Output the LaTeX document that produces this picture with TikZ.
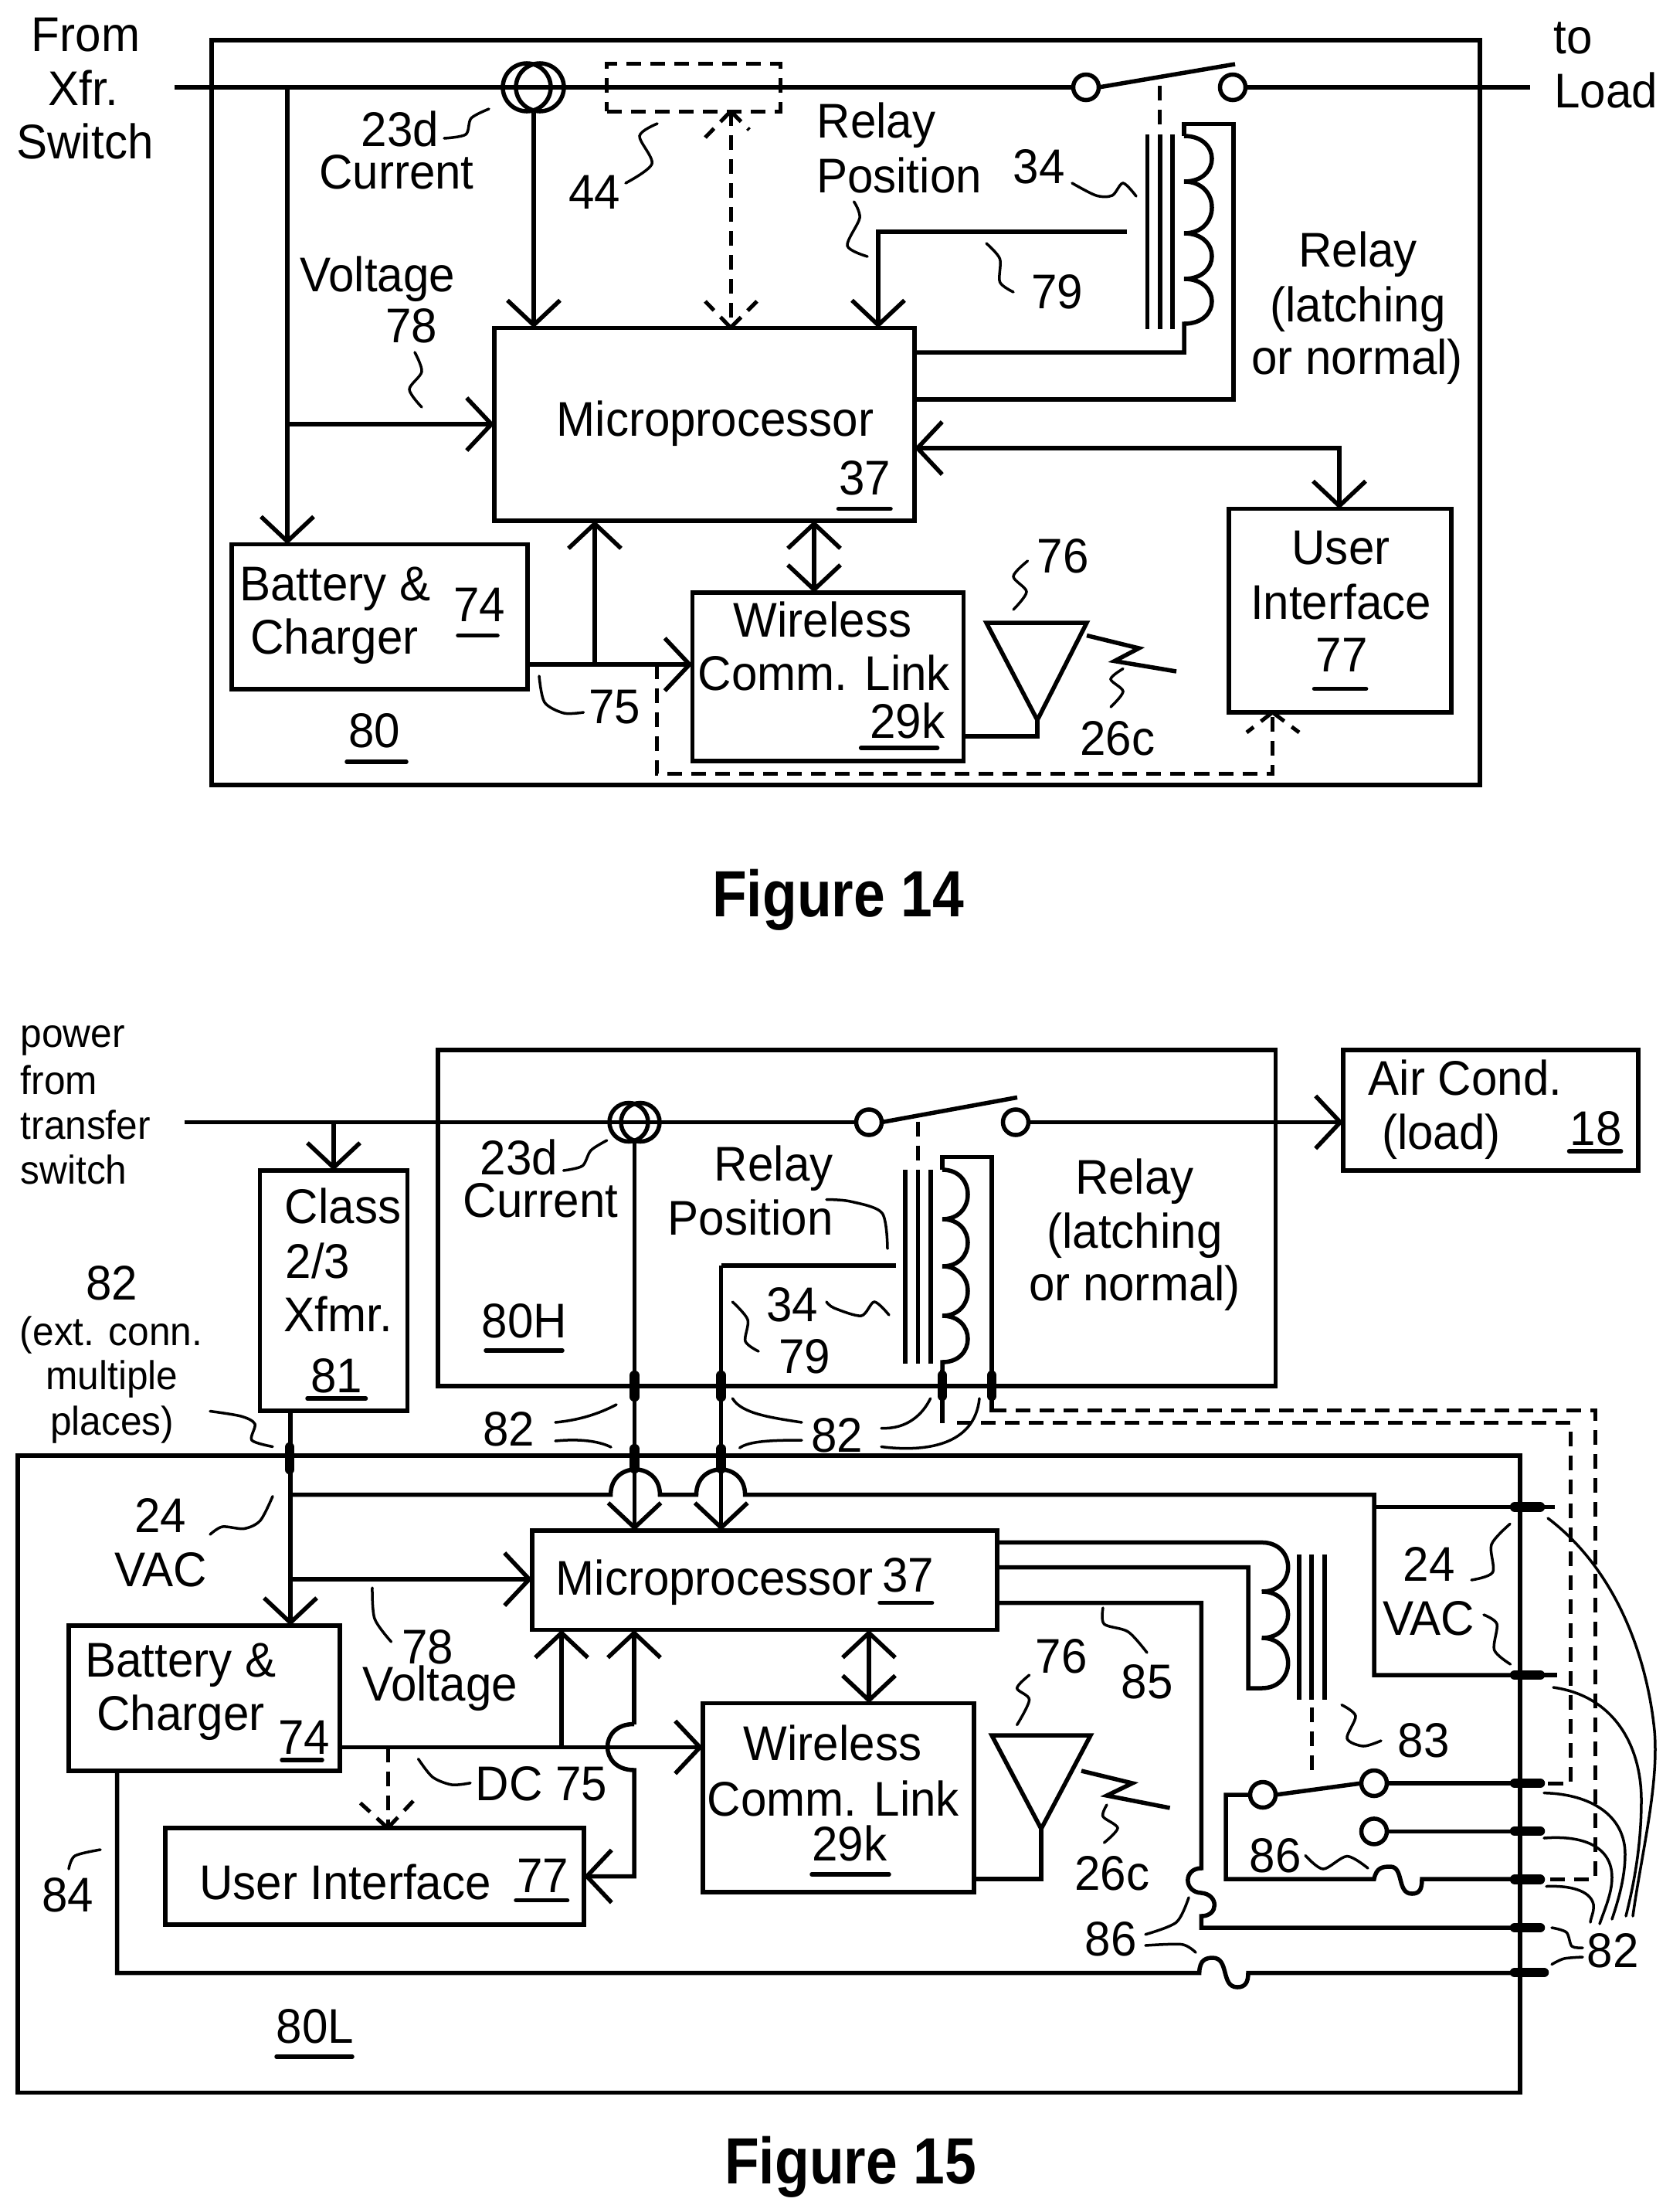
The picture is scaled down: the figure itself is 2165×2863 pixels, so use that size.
\documentclass[tikz,border=0pt]{standalone}
\usepackage{fontspec}
\setmainfont[FakeStretch=0.953]{Liberation Sans}
\newfontfamily\figfont[FakeStretch=0.865]{Liberation Sans}
\usetikzlibrary{arrows.meta,calc}
\newcounter{lb}
\newcommand{\Lbl}[3][]{\stepcounter{lb}\node[lbl,#1] (L\arabic{lb}) at (#2) {#3};}
\newcommand{\Bx}[5]{\node[blk,minimum width={(#4-#2)*0.01cm},minimum height={(#5-#3)*0.01cm}] (#1) at ({(#2+#4)/2},{(#3+#5)/2}) {};}
\tikzset{
  x=0.01cm,y=-0.01cm,
  barb/.tip={Straight Barb[length=3.2mm,width=6.8mm]},
  wire/.style={line width=0.055cm,line join=miter},
  arr/.style={wire,-barb},
  darr/.style={wire,barb-barb},
  dsh/.style={line width=0.05cm,dash pattern=on 0.19cm off 0.12cm},
  lead/.style={line width=0.035cm,line cap=round},
  ul/.style={line width=0.055cm,line cap=round},
  pill/.style={line width=0.125cm,line cap=round},
  blk/.style={draw,line width=0.055cm,inner sep=0pt,outer sep=0pt},
  term/.style={draw,circle,line width=0.055cm,inner sep=0pt,outer sep=0pt,minimum size=0.33cm},
  ct/.style={draw,circle,line width=0.055cm,inner sep=0pt,outer sep=0pt},
  lbl/.style={anchor=base,inner sep=0pt,font=\fontsize{17.93}{20}\selectfont},
  sml/.style={font=\fontsize{14.8}{17}\selectfont},
  figt/.style={anchor=base,inner sep=0pt,font=\figfont\bfseries\fontsize{24.07}{28}\selectfont},
}
\begin{document}
\begin{tikzpicture}
\useasboundingbox (0,0) rectangle (2165,2863);

% ================= FIGURE 14 =================
\Bx{outerA}{274}{52}{1916}{1016}
\Bx{micA}{640}{424.5}{1184}{674}
\Bx{batA}{300}{704.5}{683}{892}
\Bx{wirA}{896.5}{767}{1247.5}{985}
\Bx{uiA}{1591}{658.6}{1879}{922}
\node[draw,dsh,inner sep=0pt,outer sep=0pt,minimum width=2.24cm,minimum height=0.61cm] (dboxA) at (898,113.5) {};
\node[ct,minimum size=0.62cm] (ctA1) at (682,113) {};
\node[ct,minimum size=0.62cm] (ctA2) at (699,113) {};
\node[term] (swA1) at (1406,113) {};
\node[term] (swA2) at (1596,113) {};
\coordinate (inA) at (226,113);
\coordinate (outA) at (1981,113);
\coordinate (jVA) at (372,113);
\coordinate (jVmA) at (372,549);
\coordinate (jBatA) at (770,860);
\coordinate (bladeA) at (1599,83);
\draw[wire] (inA) -- (swA1.west);
\draw[wire] (swA2.east) -- (outA);
\draw[wire] (swA1.east) -- (bladeA);
\draw[arr] (jVA) -- (batA.north -| jVA);
\draw[arr] (jVmA) -- (micA.west |- jVmA);
\draw[arr] (691,146) -- (micA.north -| 691,0);
\draw[wire] (batA.east |- jBatA) -- (jBatA);
\draw[arr] (jBatA) -- (wirA.west |- jBatA);
\draw[arr] (jBatA) -- (micA.south -| jBatA);
\draw[darr] (micA.south -| 1054,0) -- (wirA.north -| 1054,0);
\draw[darr] (micA.east |- 0,580) -- (1734,580) -- (uiA.north -| 1734,0);
% relay
\draw[wire] (1458.5,300) -- (1137,300) -- ++(0,60);
\draw[arr] (1137,300) -- (micA.north -| 1137,0);
\foreach \cx in {1485.5,1502,1518} \draw[wire] (\cx,174) -- (\cx,426);
\draw[dsh] (1501.5,111) -- (1501.5,163);
\draw[wire] (1533,176) -- (1533,160.5) -- (1597,160.5) -- (1597,517) -- (micA.east |- 0,517);
\draw[wire] (1533,176) .. controls (1581,176) and (1581,235) .. (1533,235)
  .. controls (1581,235) and (1581,302) .. (1533,302)
  .. controls (1581,302) and (1581,361) .. (1533,361)
  .. controls (1581,361) and (1581,419) .. (1533,419)
  -- (1533,456) -- (micA.east |- 0,456);
% antenna
\draw[wire] (1277,806) -- (1407,806) -- (1343,932) -- cycle;
\draw[wire] (1343,932) -- (1343,953) -- (wirA.east |- 0,953);
\draw[wire] (1407,822.5) -- (1474.5,839) -- (1443,855.6) -- (1523,869);
% dashed
\draw[dsh] (946,144) -- (946,424);
\draw[dsh] (946,144) -- (913,178);
\draw[dsh] (946,144) -- (970,168);
\draw[dsh] (946,424) -- (913,390);
\draw[dsh] (946,424) -- (980,390);
\draw[dsh] (850,860) -- (850,1001) -- (1647.5,1001) -- (1647.5,922);
\draw[dsh] (1647.5,922) -- (1614,948);
\draw[dsh] (1647.5,922) -- (1682,948);
% leaders
\draw[lead] plot[smooth] coordinates {(575,179)(603,174)(610,153)(633,141)};
\draw[lead] plot[smooth] coordinates {(851,160)(828,176)(844,212)(810,237)};
\draw[lead] plot[smooth] coordinates {(537,456)(546,481)(530,504)(546,527)};
\draw[lead] plot[smooth] coordinates {(698,875)(705,909)(730,923)(755.5,922)};
\draw[lead] plot[smooth] coordinates {(1105.6,261)(1113,282)(1097,318)(1123,332)};
\draw[lead] plot[smooth] coordinates {(1277,315)(1294.5,335)(1294.5,365)(1312,378)};
\draw[lead] plot[smooth] coordinates {(1388,237)(1419,253)(1440,253)(1454,237)(1471,254)};
\draw[lead] plot[smooth] coordinates {(1330.5,726)(1312,746)(1329,766)(1312,789)};
\draw[lead] plot[smooth] coordinates {(1454,865.5)(1438,879)(1454,895)(1438,915)};
% text
\Lbl{111,66}{From}
\Lbl{108,136}{Xfr.}
\Lbl{110,205}{Switch}
\Lbl{518,189}{23d}
\Lbl{513.5,244}{Current}
\Lbl{770,270}{44}
\Lbl{489,377}{Voltage}
\Lbl{533,443}{78}
\Lbl{926,564}{Microprocessor}
\Lbl{1119.5,640}{37}
\draw[ul] (1085.5,658.6) -- (1153,658.6);
\Lbl{434,777}{Battery \&}
\Lbl{433,846}{Charger}
\Lbl{621,804}{74}
\draw[ul] (593,822.5) -- (644,822.5);
\Lbl{796,936.5}{75}
\Lbl{485,967}{80}
\draw[ul] (449,986) -- (526,986);
\Lbl{1134.5,178}{Relay}
\Lbl{1164,249}{Position}
\Lbl{1345,237}{34}
\Lbl{1368.6,399}{79}
\Lbl{1758,345}{Relay}
\Lbl{1758,416}{(latching}
\Lbl{1757,484}{or normal)}
\Lbl{1736,730}{User}
\Lbl{1736,801}{Interface}
\Lbl{1737,869}{77}
\draw[ul] (1701.5,891.4) -- (1768.6,891.4);
\Lbl{1065,824}{Wireless}
\Lbl{1067,893.5}{Comm. Link}
\Lbl{1175,955}{29k}
\draw[ul] (1114.6,968) -- (1213.6,968);
\Lbl{1376,741}{76}
\Lbl{1447,977}{26c}
\Lbl{2037,69.6}{to}
\Lbl{2079,139}{Load}
\node[figt] (figA) at (1085,1186) {Figure 14};

% ================= FIGURE 15 =================
\Bx{hB}{567}{1359}{1651.6}{1794}
\Bx{airB}{1739}{1359}{2121}{1515}
\Bx{lB}{23}{1884}{1968}{2708.5}
\Bx{clsB}{336.7}{1515}{527.5}{1826}
\Bx{micB}{689}{1981}{1291}{2109.6}
\Bx{batB}{89}{2104}{440}{2292}
\Bx{wirB}{910}{2204.5}{1261}{2449}
\Bx{uiB}{214}{2366}{756}{2491}
\node[ct,minimum size=0.5cm] (ctB1) at (814,1452.5) {};
\node[ct,minimum size=0.5cm] (ctB2) at (829,1452.5) {};
\node[term] (swB1) at (1125,1452.5) {};
\node[term] (swB2) at (1315,1452.5) {};
\node[term] (swB3) at (1635,2323) {};
\node[term] (swB4) at (1779,2308) {};
\node[term] (swB5) at (1779,2370.4) {};
\coordinate (inB) at (238.5,1452.5);
\coordinate (jClsB) at (432,1452.5);
\coordinate (jVacB) at (376,2044);
\coordinate (jBusB) at (376,1934.7);
\coordinate (jDcB) at (727,2261.5);
\coordinate (jCtB) at (821.5,1477);
\coordinate (bladeB) at (1317,1420.4);
\coordinate (bladeC) at (1763,2309);
\draw[wire] (inB) -- (swB1.west);
\draw[arr] (swB2.east) -- (airB.west |- swB2.east);
\draw[wire] (swB1.east) -- (bladeB);
\draw[arr] (jClsB) -- (clsB.north -| jClsB);
\draw[arr] (clsB.south -| jBusB) -- (batB.north -| jBusB);
\draw[arr] (jVacB) -- (micB.west |- jVacB);
% bus with hops
\draw[wire] (jBusB) -- (790.6,1934.7) .. controls (790.6,1891) and (854.4,1891) .. (854.4,1934.7)
  -- (901.5,1934.7) .. controls (901.5,1891) and (964.6,1891) .. (964.6,1934.7)
  -- (1779,1934.7) -- (1779,2168) -- (lB.east |- 0,2168);
\draw[wire] (1779,1950.5) -- (2013,1950.5);
\draw[wire] (1968,2168) -- (2016,2168);
% verticals
\draw[arr] (jCtB) -- (micB.north -| jCtB);
\draw[arr] (933.7,1638) -- (micB.north -| 933.7,0);
\draw[wire] (933.7,1638) -- (1159.6,1638);
\draw[wire] (1220,1773) -- (1220,1842);
\draw[wire] (1284,1773) -- (1284,1828);
% dc
\draw[wire] (batB.east |- jDcB) -- (jDcB);
\draw[arr] (jDcB) -- (wirB.west |- jDcB);
\draw[arr] (jDcB) -- (micB.south -| jDcB);
\draw[arr] (821,2231.5) -- (micB.south -| 821,0);
\draw[arr] (821,2231.5) .. controls (775,2231) and (775,2291) .. (821,2291) -- (821,2428.5) -- (uiB.east |- 0,2428.5);
\draw[darr] (micB.south -| 1125,0) -- (wirB.north -| 1125,0);
% 84
\draw[wire] (batB.south -| 151.5,0) -- (151.5,2553.5) -- (1552.7,2553.5)
  .. controls (1553,2536) and (1562,2534) .. (1570,2534)
  .. controls (1592,2534) and (1580,2572) .. (1602,2572)
  .. controls (1612,2572) and (1616,2566) .. (1616,2553.5) -- (lB.east |- 0,2553.5);
% antenna
\draw[wire] (1284,2246) -- (1412,2246) -- (1348,2367) -- cycle;
\draw[wire] (1348,2367) -- (1348,2432) -- (wirB.east |- 0,2432);
\draw[wire] (1400,2292) -- (1466,2308) -- (1433,2324) -- (1514.6,2340);
% upper relay
\foreach \cx in {1172,1188.6,1205} \draw[wire] (\cx,1514) -- (\cx,1765);
\draw[dsh] (1188.6,1451.5) -- (1188.6,1502);
\draw[wire] (1220,1514) -- (1220,1497.4) -- (1284,1497.4) -- (1284,1775);
\draw[wire] (1220,1514) .. controls (1264,1514) and (1264,1578) .. (1220,1578)
  .. controls (1264,1578) and (1264,1639) .. (1220,1639)
  .. controls (1264,1639) and (1264,1703) .. (1220,1703)
  .. controls (1264,1703) and (1264,1763) .. (1220,1763) -- (1220,1775);
% lower relay
\draw[wire] (micB.east |- 0,1996.4) -- (1633.6,1996.4)
  .. controls (1679,1996.4) and (1679,2060) .. (1633.6,2060)
  .. controls (1679,2060) and (1679,2120) .. (1633.6,2120)
  .. controls (1679,2120) and (1679,2185) .. (1633.6,2185) -- (1616,2185) -- (1616,2028.6) -- (micB.east |- 0,2028.6);
\foreach \cx in {1682,1698,1715} \draw[wire] (\cx,2012) -- (\cx,2200);
\draw[dsh] (1698,2210) -- (1698,2294);
\draw[wire] (micB.east |- 0,2074.5) -- (1555.4,2074.5) -- (1555.4,2418)
  .. controls (1532,2418) and (1532,2449) .. (1555.4,2450)
  .. controls (1578,2452) and (1578,2480) .. (1555.4,2480) -- (1555.4,2495) -- (lB.east |- 0,2495);
% lower switch
\draw[wire] (swB3.east) -- (swB4.west);
\draw[wire] (swB4.east) -- (lB.east |- swB4.east);
\draw[wire] (swB5.east) -- (lB.east |- swB5.east);
\draw[wire] (swB3.west) -- (1587,2323) -- (1587,2432) -- (1779,2432)
  .. controls (1782,2417) and (1790,2416) .. (1800,2416)
  .. controls (1818,2416) and (1808,2451) .. (1828,2451)
  .. controls (1838,2451) and (1841,2445) .. (1841,2432) -- (lB.east |- 0,2432);
% dashed
\draw[dsh] (1284,1825.5) -- (2065,1825.5) -- (2065,2432) -- (2000,2432);
\draw[dsh] (1239,1841) -- (2033.6,1841) -- (2033.6,2308) -- (2000,2308);
\draw[dsh] (502,2261.5) -- (502,2366);
\draw[dsh] (502,2366) -- (466.5,2333.6);
\draw[dsh] (502,2366) -- (535,2331);
% pills
\foreach \cx in {821.5,933.7} {
  \draw[pill] (\cx,1780) -- (\cx,1808);
  \draw[pill] (\cx,1875) -- (\cx,1901);
}
\draw[pill] (375,1873) -- (375,1902);
\draw[pill] (1220,1780) -- (1220,1807);
\draw[pill] (1284,1780) -- (1284,1807);
\foreach \cy in {1950.5,2168,2308,2370,2432.6,2495} \draw[pill] (1961,\cy) -- (1994,\cy);
\draw[pill] (1961,2553) -- (1999,2553);
% leaders
\draw[lead] plot[smooth] coordinates {(272,1826.5)(312,1833)(330,1843)(326,1864)(353,1872.4)};
\draw[lead] plot[smooth] coordinates {(272,1986)(288,1976)(316,1978.5)(337,1968)(353,1936.7)};
\draw[lead] plot[smooth] coordinates {(729.6,1515)(754,1509)(765,1489)(785.7,1476)};
\draw[lead] plot[smooth] coordinates {(948.4,1685)(968,1708)(965,1736)(982,1749)};
\draw[lead] plot[smooth] coordinates {(1070,1685)(1080,1693)(1115,1703)(1132,1685)(1151,1702)};
\draw[lead] plot[smooth] coordinates {(1070,1552.5)(1101,1555)(1142,1570)(1149,1616)};
\draw[lead] plot[smooth] coordinates {(482,2055)(485,2095)(506.5,2125)};
\draw[lead] plot[smooth] coordinates {(541.6,2276.6)(560,2300)(585,2310)(609,2307.7)};
\draw[lead] plot[smooth] coordinates {(89,2419)(97,2402)(130,2394)};
\draw[lead] plot[smooth] coordinates {(1955,1972.4)(1931,1999)(1932.6,2035)(1905,2045)};
\draw[lead] plot[smooth] coordinates {(1921,2090)(1938,2102)(1934.6,2135.5)(1955.5,2154)};
\draw[lead] plot[smooth] coordinates {(1428,2081)(1429.5,2102)(1460.6,2112)(1485,2139)};
\draw[lead] plot[smooth] coordinates {(1737,2206.6)(1755,2221)(1744,2250)(1765,2260)(1788,2253)};
\draw[lead] plot[smooth] coordinates {(1332.6,2168)(1316.7,2185)(1332.6,2200)(1316.7,2232.5)};
\draw[lead] plot[smooth] coordinates {(1433,2336)(1428,2351)(1447,2366)(1429.5,2385)};
\draw[lead] plot[smooth] coordinates {(1690,2401.5)(1713,2419)(1744,2402.5)(1771,2418)};
\draw[lead] plot[smooth] coordinates {(1483,2503.7)(1523,2488)(1539,2456)};
\draw[lead] plot[smooth] coordinates {(1483,2518)(1530,2516.6)(1548,2527)};
\draw[lead] plot[smooth] coordinates {(2009,2495)(2028,2501)(2035,2519)(2049,2521)};
\draw[lead] plot[smooth] coordinates {(2009,2542.5)(2025,2535)(2049,2533)};
\draw[lead] (719,1841) .. controls (750,1838) and (775,1830) .. (798,1818);
\draw[lead] (719,1865) .. controls (750,1862) and (775,1865) .. (791,1873);
\draw[lead] (948.4,1810) .. controls (960,1830) and (1000,1835) .. (1038,1841);
\draw[lead] (957.6,1874) .. controls (970,1865) and (1000,1864) .. (1038,1864);
\draw[lead] (1141,1848.5) .. controls (1175,1850) and (1195,1830) .. (1204.6,1810);
\draw[lead] (1141,1872.5) .. controls (1200,1880) and (1262,1870) .. (1268,1810);
\draw[lead] (2004,1965) .. controls (2090,2030) and (2132,2140) .. (2142,2240) .. controls (2148,2310) and (2125,2400) .. (2114,2480);
\draw[lead] (2011,2184) .. controls (2090,2195) and (2125,2260) .. (2125,2330) .. controls (2125,2390) and (2115,2440) .. (2105,2480);
\draw[lead] (1999,2320.6) .. controls (2060,2322) and (2104,2350) .. (2104,2400) .. controls (2104,2430) and (2095,2460) .. (2087,2484);
\draw[lead] (1999,2379) .. controls (2050,2375) and (2087,2390) .. (2087,2430) .. controls (2087,2450) and (2078,2470) .. (2071,2490);
\draw[lead] (2002,2441.5) .. controls (2040,2440) and (2060,2450) .. (2063,2465) .. controls (2064,2475) and (2060,2480) .. (2059,2488);
% text
\Lbl[sml,anchor=base west]{26,1355}{power}
\Lbl[sml,anchor=base west]{26,1416}{from}
\Lbl[sml,anchor=base west]{26,1474.5}{transfer}
\Lbl[sml,anchor=base west]{26,1532}{switch}
\Lbl{145,1682.6}{82}
\Lbl[sml]{144,1741}{(ext. conn.}
\Lbl[sml]{145,1798.5}{multiple}
\Lbl[sml]{145,1857}{places)}
\Lbl{444,1583}{Class}
\Lbl[anchor=base west]{369,1654.6}{2/3}
\Lbl[anchor=base west]{367,1723.5}{Xfmr.}
\Lbl{436,1802.5}{81}
\draw[ul] (398,1810) -- (473.5,1810);
\Lbl{208,1983.7}{24}
\Lbl{208,2053.6}{VAC}
\Lbl{672,1520}{23d}
\Lbl{700,1575.5}{Current}
\Lbl{1001.7,1528.6}{Relay}
\Lbl{971.6,1598.5}{Position}
\Lbl{1025.6,1710.7}{34}
\Lbl{1041.7,1777}{79}
\Lbl{679,1731}{80H}
\draw[ul] (629,1748) -- (728,1748);
\Lbl{659,1871}{82}
\Lbl{1083.5,1879}{82}
\Lbl{1469,1545}{Relay}
\Lbl{1469,1615}{(latching}
\Lbl{1469,1683.7}{or normal)}
\Lbl{1897,1417}{Air Cond.}
\Lbl{1866,1487}{(load)}
\Lbl{2066,1482.6}{18}
\draw[ul] (2031.5,1490) -- (2098.7,1490);
\Lbl{925,2064}{Microprocessor}
\Lbl{1175.5,2060}{37}
\draw[ul] (1139,2074.5) -- (1206.6,2074.5);
\Lbl{1078,2278}{Wireless}
\Lbl{1079,2350}{Comm. Link}
\Lbl{1100,2408}{29k}
\draw[ul] (1051,2426) -- (1151,2426);
\Lbl{234,2170}{Battery \&}
\Lbl{234,2239}{Charger}
\Lbl{394,2270}{74}
\draw[ul] (365,2278) -- (417,2278);
\Lbl{554,2153.7}{78}
\Lbl{569.6,2201}{Voltage}
\Lbl{701,2330}{DC 75}
\Lbl{447,2458.6}{User Interface}
\Lbl{703,2449}{77}
\draw[ul] (668,2459.6) -- (734.5,2459.6);
\Lbl{87.7,2474}{84}
\Lbl{408,2644.7}{80L}
\draw[ul] (358,2662) -- (456,2662);
\Lbl{1850,2046}{24}
\Lbl{1849.6,2116}{VAC}
\Lbl{1485,2198}{85}
\Lbl{1843,2274}{83}
\Lbl{1374,2165}{76}
\Lbl{1440,2446.6}{26c}
\Lbl{1651,2423}{86}
\Lbl{1438,2531}{86}
\Lbl{2088,2546}{82}
\node[figt] (figB) at (1101,2826) {Figure 15};
\end{tikzpicture}
\end{document}
